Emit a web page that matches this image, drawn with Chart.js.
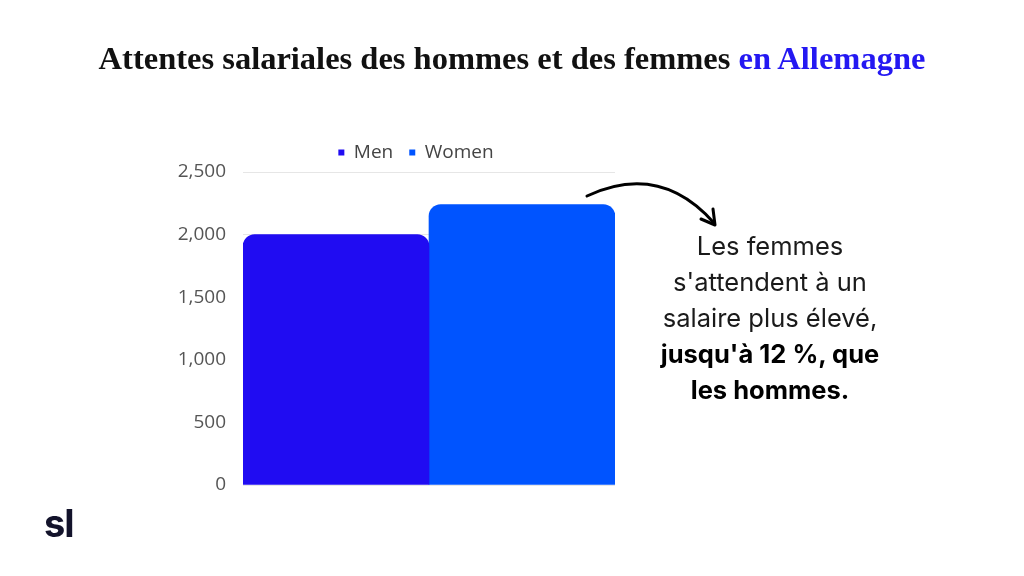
<!DOCTYPE html>
<html><head><meta charset="utf-8">
<script src="https://cdn.jsdelivr.net/npm/chart.js@4.4.1/dist/chart.umd.min.js"></script>
<style>
html,body{margin:0;padding:0;background:#fff;width:1024px;height:576px;overflow:hidden;}
#wrap{position:absolute;left:0;top:0;width:1024px;height:576px;}
#title{position:absolute;left:0;top:40px;width:1024px;text-align:center;font-family:"Liberation Serif",serif;font-weight:bold;font-size:32.5px;color:#111;white-space:nowrap;}
#title span{color:#2418f2;}
#note{position:absolute;left:620px;top:228px;width:300px;text-align:center;font-family:Inter,sans-serif;font-size:25.5px;line-height:36px;color:#1a1a1a;}
#note b{color:#000;font-weight:700;}
#logo{position:absolute;left:44px;top:500px;font-family:Inter,sans-serif;font-weight:700;font-size:38px;color:#13132b;letter-spacing:-1px;}
svg{position:absolute;left:0;top:0;}
</style></head>
<body>
<div id="wrap"><canvas id="c" width="1024" height="576"></canvas></div>
<div id="title">Attentes salariales des hommes et des femmes <span>en Allemagne</span></div>
<svg width="1024" height="576"><path d="M587,196 Q660,162 714,223" fill="none" stroke="#000" stroke-width="3" stroke-linecap="round"/><path d="M701,219 L715,225 L713,209" fill="none" stroke="#000" stroke-width="3" stroke-linecap="round" stroke-linejoin="round"/></svg>
<div id="note">Les femmes<br>s'attendent à un<br>salaire plus élevé,<br><b>jusqu'à 12 %, que<br>les hommes.</b></div>
<div id="logo">sl</div>
<script>
const categories = ["Allemagne"];
const seriesNames = ["Men", "Women"];
const menValues = [2000];
const womenValues = [2240];
const yTicks = [0, 500, 1000, 1500, 2000, 2500];

new Chart(document.getElementById('c'), {
  type: 'bar',
  data: {
    labels: categories,
    datasets: [
      {label: seriesNames[0], data: menValues, backgroundColor: '#200cf2', borderRadius: {topLeft: 12, topRight: 12}, borderSkipped: 'start'},
      {label: seriesNames[1], data: womenValues, backgroundColor: '#0054ff', borderRadius: {topLeft: 12, topRight: 12}, borderSkipped: 'start'}
    ]
  },
  options: {
    responsive: false,
    animation: false,
    layout: {padding: {left: 0, right: 192, top: 127, bottom: 91}},
    datasets: {bar: {barPercentage: 1, categoryPercentage: 1}},
    plugins: {
      tooltip: {enabled: false},
      legend: {
        position: 'top',
        labels: {usePointStyle: true, pointStyle: 'rect', boxWidth: 6, boxHeight: 6, padding: 16,
          color: '#444', font: {family: '"Open Sans"', size: 19}}
      }
    },
    scales: {
      x: {display: false},
      y: {
        min: 0, max: 2500,
        afterBuildTicks: (s) => { s.ticks = yTicks.map(v => ({value: v})); },
        afterFit: (s) => { s.width = 243; },
        ticks: {padding: 17, color: '#555', font: {family: '"Open Sans"', size: 19},
          callback: (v) => v.toLocaleString('en-US')},
        grid: {color: '#e6e6e6', drawTicks: false},
        border: {display: false}
      },
      y2: {
        position: 'right', display: true,
        afterFit: (s) => { s.width = 217; },
        ticks: {display: false}, grid: {display: false}, border: {display: false}
      }
    }
  }
});
</script>
</body></html>
